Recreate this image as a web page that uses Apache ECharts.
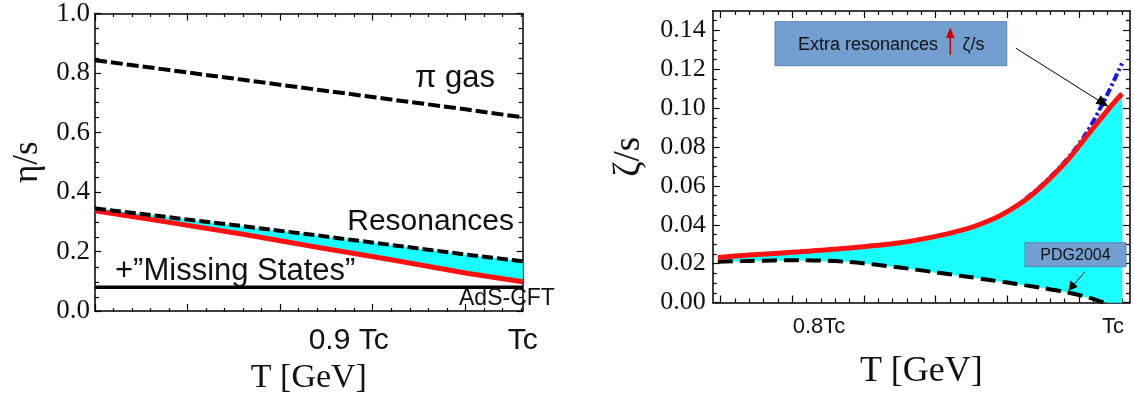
<!DOCTYPE html>
<html><head><meta charset="utf-8">
<script src="https://cdn.jsdelivr.net/npm/echarts@6/dist/echarts.min.js"></script>
<style>html,body{margin:0;padding:0;background:#fff}#c{width:1135px;height:400px}</style>
</head><body><div id="c"></div>
<script>
// ---------------- Left panel: eta/s (x in tick units along T) ----------------
const leftX          = [0, 4, 8, 12, 16, 20, 23.1];
const leftPiGas      = [0.843, 0.810, 0.777, 0.744, 0.711, 0.678, 0.651];
const leftResonances = [0.345, 0.315, 0.285, 0.254, 0.222, 0.190, 0.167];
const leftMissing    = [0.337, 0.298, 0.258, 0.214, 0.172, 0.128, 0.098];
const adsCftX        = [0, 23.1];
const adsCftY        = [0.0796, 0.0796];
const leftXMajor     = [0, 5, 10, 15, 20];
const leftXMinor     = [1,2,3,4,6,7,8,9,11,12,13,14,16,17,18,19,21,22,23];
const leftXLabelPos  = [13.7, 23.1];
const leftXLabels    = ['0.9 Tc', 'Tc'];
const leftYMajor     = [0, 0.2, 0.4, 0.6, 0.8, 1.0];
const leftYMinor     = [0.05,0.1,0.15,0.25,0.3,0.35,0.45,0.5,0.55,0.65,0.7,0.75,0.85,0.9,0.95];

// ---------------- Right panel: zeta/s ----------------
const rightX       = [-0.2, 2, 5.5, 9, 12.5, 15, 17.2, 19, 20, 21.3, 22.5, 24.2, 25.7, 27, 28];
const rightRed     = [0.0232, 0.0244, 0.0261, 0.0280, 0.0307, 0.0340, 0.0380, 0.0430, 0.0468, 0.0530, 0.0605, 0.0733, 0.0871, 0.0990, 0.1075];
const rightBandLow = [0.0210, 0.0214, 0.0218, 0.0208, 0.0180, 0.0155, 0.0133, 0.0113, 0.0103, 0.0088, 0.0074, 0.0052, 0.0025, 0.0, 0.0];
const pdgX         = [-0.2, 2, 5.5, 9, 12.5, 15, 17.2, 19, 20, 21.3, 22.5, 24.2, 25.7, 26.7];
const pdgY         = [0.0210, 0.0214, 0.0218, 0.0208, 0.0180, 0.0155, 0.0133, 0.0113, 0.0103, 0.0088, 0.0074, 0.0052, 0.0025, 0.0];
const blueX        = [21.3, 22.5, 24.2, 25.5, 26.7, 28];
const blueY        = [0.0535, 0.0610, 0.0740, 0.0870, 0.1030, 0.1230];
const rightXMajor  = [0, 5, 10, 15, 20, 25];
const rightXMinor  = [1,2,3,4,6,7,8,9,11,12,13,14,16,17,18,19,21,22,23,24,26,27,28];
const rightXLabelPos = [6.86, 27.38];
const rightXLabels   = ['0.8Tc', 'Tc'];
const rightYMajor  = [0, 0.02, 0.04, 0.06, 0.08, 0.10, 0.12, 0.14];
const rightYMinor  = [0.005,0.01,0.015,0.025,0.03,0.035,0.045,0.05,0.055,0.065,0.07,0.075,0.085,0.09,0.095,0.105,0.11,0.115,0.125,0.13,0.135,0.145];

const SANS  = '"Liberation Sans", Arial, sans-serif';
const SERIF = '"Liberation Serif", "Times New Roman", serif';
const INK = '#000';

const zip = (a, b) => a.map((v, i) => [v, b[i]]);

function ax(grid, pos, min, max, ticks, len, line, extra) {
  return Object.assign({
    type: 'value', gridIndex: grid, position: pos, min: min, max: max,
    axisLine: { show: line, onZero: false, lineStyle: { color: INK, width: 1.5 } },
    axisTick: { show: true, inside: true, length: len, customValues: ticks, lineStyle: { color: INK, width: 1.2 } },
    axisLabel: { show: false },
    splitLine: { show: false }
  }, extra || {});
}

function band(xi, yi, xs, lo, hi, color) {
  return {
    type: 'custom', xAxisIndex: xi, yAxisIndex: yi, silent: true,
    data: xs.map((x, i) => [x, lo[i], hi[i]]),
    encode: { x: 0, y: [1, 2] },
    renderItem: function (params, api) {
      if (params.dataIndex !== 0) return null;
      const top = xs.map((x, i) => api.coord([x, hi[i]]));
      const bot = xs.map((x, i) => api.coord([x, lo[i]])).reverse();
      return { type: 'polygon', shape: { points: top.concat(bot) }, style: { fill: color, stroke: color, lineWidth: 0.5 } };
    }
  };
}
function line(xi, yi, data, color, width, type, smooth) {
  return {
    type: 'line', xAxisIndex: xi, yAxisIndex: yi, data: data, showSymbol: false, symbol: 'none',
    smooth: smooth || false, silent: true,
    lineStyle: { color: color, width: width, type: type || 'solid', cap: 'butt' }
  };
}

const LG = { left: 95, top: 13, width: 427.7, height: 299 };
const RG = { left: 712.7, top: 11, width: 417.3, height: 291.5 };

const option = {
  animation: false,
  backgroundColor: '#fff',
  grid: [LG, LG, RG, RG],
  xAxis: [
    ax(0, 'bottom', 0, 23.1, leftXMajor, 7, true, {
      axisLabel: { show: true, customValues: leftXLabelPos, margin: 15, color: '#111',
        fontFamily: SANS, fontSize: 30, formatter: v => leftXLabels[leftXLabelPos.indexOf(v)] },
      name: 'T [GeV]', nameLocation: 'middle', nameGap: 50,
      nameTextStyle: { fontFamily: SERIF, fontSize: 34, color: '#111' }
    }),
    ax(0, 'top', 0, 23.1, leftXMajor, 7, true),
    ax(1, 'bottom', 0, 23.1, leftXMinor, 4, false),
    ax(1, 'top', 0, 23.1, leftXMinor, 4, false),
    ax(2, 'bottom', -0.56, 28.56, rightXMajor, 7, true, {
      axisLabel: { show: true, customValues: rightXLabelPos, margin: 13, color: '#111',
        fontFamily: SANS, fontSize: 22, formatter: v => rightXLabels[rightXLabelPos.indexOf(v)] },
      name: 'T [GeV]', nameLocation: 'middle', nameGap: 51,
      nameTextStyle: { fontFamily: SERIF, fontSize: 36, color: '#111' }
    }),
    ax(2, 'top', -0.56, 28.56, rightXMajor, 7, true),
    ax(3, 'bottom', -0.56, 28.56, rightXMinor, 4, false),
    ax(3, 'top', -0.56, 28.56, rightXMinor, 4, false)
  ],
  yAxis: [
    ax(0, 'left', 0, 1, leftYMajor, 6, true, {
      axisLabel: { show: true, customValues: leftYMajor, margin: 5, color: '#111',
        fontFamily: SERIF, fontSize: 27, formatter: v => v.toFixed(1) },
      name: 'η/s', nameLocation: 'middle', nameGap: 50,
      nameTextStyle: { fontFamily: SERIF, fontSize: 35, color: '#111' }
    }),
    ax(0, 'right', 0, 1, leftYMajor, 6, true),
    ax(1, 'left', 0, 1, leftYMinor, 4, false),
    ax(1, 'right', 0, 1, leftYMinor, 4, false),
    ax(2, 'left', 0, 0.15, rightYMajor, 7, true, {
      axisLabel: { show: true, customValues: rightYMajor, margin: 7, color: '#111',
        fontFamily: SERIF, fontSize: 26, formatter: v => v.toFixed(2) },
      name: 'ζ/s', nameLocation: 'middle', nameGap: 65,
      nameTextStyle: { fontFamily: SERIF, fontSize: 37, color: '#111' }
    }),
    ax(2, 'right', 0, 0.15, rightYMajor, 7, true),
    ax(3, 'left', 0, 0.15, rightYMinor, 4, false),
    ax(3, 'right', 0, 0.15, rightYMinor, 4, false)
  ],
  series: [
    // left panel
    band(0, 0, leftX, leftMissing, leftResonances, '#19ffff'),
    line(0, 0, zip(adsCftX, adsCftY), '#000', 3.5),
    line(0, 0, zip(leftX, leftMissing), '#ff1111', 5),
    line(0, 0, zip(leftX, leftResonances), '#000', 4, [11, 4]),
    line(0, 0, zip(leftX, leftPiGas), '#000', 4, [12, 4]),
    // right panel
    band(4, 4, rightX, rightBandLow, rightRed, '#19ffff'),
    line(4, 4, zip(pdgX, pdgY), '#000', 4, [15, 7], 0.3),
    line(4, 4, zip(blueX, blueY), '#1414f0', 4, [8, 3, 2.5, 3], 0.3),
    line(4, 4, zip(rightX, rightRed), '#ff1111', 5, 'solid', 0.3)
  ],
  graphic: [
    { type: 'text', z: 100, style: { text: 'π gas', x: 415, y: 78, font: '31px ' + SANS, fill: '#111', textAlign: 'left', align: 'left', textVerticalAlign: 'middle', verticalAlign: 'middle' } },
    { type: 'text', z: 100, style: { text: 'Resonances', x: 514, y: 221.5, font: '30px ' + SANS, fill: '#111', textAlign: 'right', align: 'right', textVerticalAlign: 'middle', verticalAlign: 'middle' } },
    { type: 'text', z: 100, style: { text: '+”Missing States”', x: 115, y: 271, font: '31px ' + SANS, fill: '#111', textAlign: 'left', align: 'left', textVerticalAlign: 'middle', verticalAlign: 'middle' } },
    { type: 'text', z: 100, style: { text: 'AdS-CFT', x: 459, y: 298.5, font: '23px ' + SANS, fill: '#111', textAlign: 'left', align: 'left', textVerticalAlign: 'middle', verticalAlign: 'middle' } },

    { type: 'rect', z: 100, shape: { x: 775, y: 21.7, width: 231.7, height: 44 }, style: { fill: '#729fcf', stroke: '#5b83b5', lineWidth: 1 } },
    { type: 'text', z: 101, style: { text: 'Extra resonances', x: 798, y: 45, font: '18px ' + SANS, fill: '#111', textAlign: 'left', align: 'left', textVerticalAlign: 'middle', verticalAlign: 'middle' } },
    { type: 'polyline', z: 101, shape: { points: [[950.3, 55], [950.3, 36]] }, style: { stroke: '#cc0000', lineWidth: 1.6 } },
    { type: 'polygon', z: 101, shape: { points: [[950.3, 27.5], [946, 38], [954.6, 38]] }, style: { fill: '#cc0000' } },
    { type: 'text', z: 101, style: { text: 'ζ/s', x: 962.5, y: 45, font: '18px ' + SANS, fill: '#111', textAlign: 'left', align: 'left', textVerticalAlign: 'middle', verticalAlign: 'middle' } },
    { type: 'polyline', z: 101, shape: { points: [[1016, 48.3], [1098, 100]] }, style: { stroke: '#000', lineWidth: 1 } },
    { type: 'polygon', z: 101, shape: { points: [[1108.5, 106.7], [1095.5, 103.8], [1100.8, 95.3]] }, style: { fill: '#000' } },

    { type: 'rect', z: 100, shape: { x: 1025, y: 242.7, width: 101, height: 24 }, style: { fill: '#729fcf', stroke: '#5b83b5', lineWidth: 1 } },
    { type: 'text', z: 101, style: { text: 'PDG2004', x: 1075.5, y: 255.2, font: '16px ' + SANS, fill: '#111', textAlign: 'center', align: 'center', textVerticalAlign: 'middle', verticalAlign: 'middle' } },
    { type: 'polyline', z: 101, shape: { points: [[1085, 271.7], [1074, 284.5]] }, style: { stroke: '#000', lineWidth: 1 } },
    { type: 'polygon', z: 101, shape: { points: [[1068.3, 291], [1070.5, 280.5], [1077.8, 286.8]] }, style: { fill: '#000' } }
  ]
};

const chart = echarts.init(document.getElementById('c'), null, { renderer: 'canvas' });
chart.setOption(option);
</script>
</body></html>
